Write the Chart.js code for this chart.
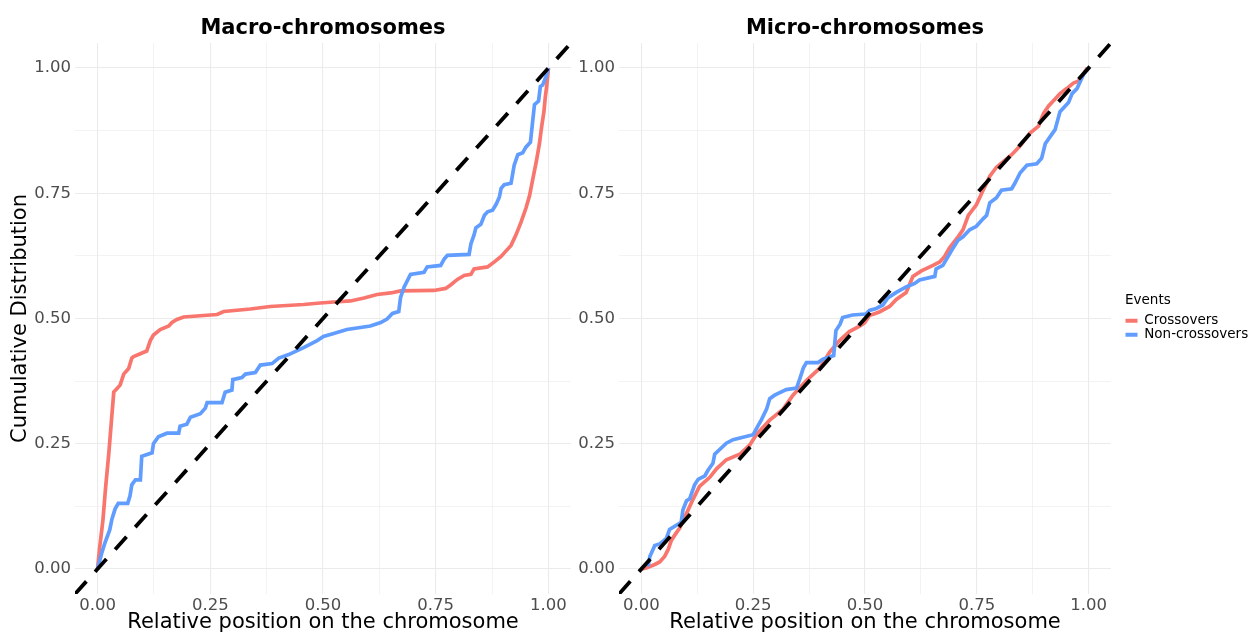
<!DOCTYPE html>
<html>
<head>
<meta charset="utf-8">
<script src="https://cdn.jsdelivr.net/npm/chart.js@4.4.1/dist/chart.umd.min.js"></script>
<style>
  html, body { margin: 0; padding: 0; background: #fff; overflow: hidden; width: 1255px; height: 637px; }
  canvas { position: absolute; top: 0; }
  #macro { left: 0; }
  #micro { left: 571px; }
</style>
</head>
<body>
<canvas id="macro" width="571" height="637"></canvas>
<canvas id="micro" width="690" height="637"></canvas>
<script>
// ticks shared by both axes of both panels (minor ones have no label)
const tickValues = [0, 0.125, 0.25, 0.375, 0.5, 0.625, 0.75, 0.875, 1]
const tickLabels = ['0.00', '', '0.25', '', '0.50', '', '0.75', '', '1.00']

const seriesNames = ['Crossovers', 'Non-crossovers']
const seriesColors = ['#F8766D', '#619CFF']

// Macro-chromosomes
const macroCrossX = [0, 0.005, 0.012, 0.018, 0.025, 0.031, 0.036, 0.050, 0.058, 0.069, 0.076, 0.080, 0.109, 0.117, 0.124, 0.139, 0.158, 0.165, 0.176, 0.191, 0.265, 0.280, 0.339, 0.383, 0.457, 0.494, 0.524, 0.561, 0.591, 0.620, 0.650, 0.672, 0.746, 0.772, 0.783, 0.798, 0.813, 0.828, 0.835, 0.865, 0.880, 0.895, 0.902, 0.917, 0.928, 0.939, 0.950, 0.958, 0.965, 0.973, 0.980, 0.985, 0.990, 0.993, 0.996, 1.0]
const macroCrossY = [0, 0.045, 0.098, 0.164, 0.231, 0.298, 0.353, 0.367, 0.389, 0.400, 0.421, 0.424, 0.435, 0.456, 0.467, 0.478, 0.485, 0.492, 0.498, 0.503, 0.508, 0.514, 0.519, 0.524, 0.528, 0.531, 0.533, 0.535, 0.541, 0.548, 0.551, 0.555, 0.556, 0.560, 0.567, 0.578, 0.586, 0.588, 0.599, 0.603, 0.613, 0.624, 0.631, 0.646, 0.667, 0.692, 0.720, 0.745, 0.777, 0.813, 0.849, 0.884, 0.913, 0.942, 0.963, 1.0]

const macroNonX = [0, 0.009, 0.016, 0.027, 0.032, 0.039, 0.046, 0.067, 0.072, 0.076, 0.084, 0.095, 0.098, 0.121, 0.124, 0.135, 0.154, 0.180, 0.183, 0.198, 0.206, 0.228, 0.239, 0.243, 0.276, 0.283, 0.298, 0.300, 0.320, 0.328, 0.350, 0.361, 0.387, 0.402, 0.424, 0.457, 0.487, 0.501, 0.520, 0.553, 0.605, 0.628, 0.642, 0.654, 0.668, 0.672, 0.680, 0.694, 0.724, 0.731, 0.761, 0.769, 0.776, 0.824, 0.828, 0.835, 0.839, 0.850, 0.858, 0.865, 0.876, 0.884, 0.891, 0.895, 0.902, 0.917, 0.924, 0.932, 0.943, 0.950, 0.960, 0.963, 0.969, 0.978, 0.982, 0.987, 0.995, 1.0]
const macroNonY = [0, 0.031, 0.051, 0.078, 0.100, 0.120, 0.131, 0.131, 0.146, 0.168, 0.178, 0.178, 0.225, 0.232, 0.250, 0.264, 0.271, 0.271, 0.285, 0.289, 0.303, 0.310, 0.321, 0.332, 0.332, 0.353, 0.357, 0.378, 0.382, 0.389, 0.392, 0.407, 0.410, 0.421, 0.428, 0.442, 0.456, 0.464, 0.469, 0.478, 0.485, 0.492, 0.499, 0.510, 0.514, 0.542, 0.563, 0.588, 0.592, 0.603, 0.606, 0.619, 0.626, 0.628, 0.649, 0.667, 0.681, 0.688, 0.706, 0.713, 0.716, 0.728, 0.742, 0.760, 0.767, 0.770, 0.806, 0.827, 0.831, 0.842, 0.852, 0.877, 0.927, 0.934, 0.963, 0.966, 0.984, 1.0]

// Micro-chromosomes
const microCrossX = [0, 0.011, 0.030, 0.041, 0.052, 0.060, 0.067, 0.075, 0.086, 0.101, 0.116, 0.130, 0.153, 0.168, 0.190, 0.220, 0.242, 0.257, 0.287, 0.317, 0.339, 0.369, 0.399, 0.421, 0.442, 0.465, 0.487, 0.499, 0.510, 0.532, 0.555, 0.570, 0.592, 0.607, 0.626, 0.652, 0.667, 0.678, 0.689, 0.708, 0.719, 0.731, 0.749, 0.764, 0.779, 0.794, 0.809, 0.828, 0.847, 0.869, 0.888, 0.899, 0.910, 0.925, 0.936, 0.951, 0.966, 0.978, 0.985, 0.997]
const microCrossY = [0, 0.002, 0.009, 0.014, 0.025, 0.039, 0.057, 0.068, 0.082, 0.111, 0.140, 0.165, 0.183, 0.200, 0.218, 0.229, 0.247, 0.268, 0.297, 0.319, 0.347, 0.376, 0.401, 0.433, 0.455, 0.474, 0.484, 0.491, 0.506, 0.513, 0.524, 0.538, 0.552, 0.584, 0.595, 0.606, 0.613, 0.624, 0.641, 0.663, 0.677, 0.706, 0.727, 0.756, 0.784, 0.802, 0.813, 0.827, 0.845, 0.870, 0.884, 0.909, 0.924, 0.938, 0.949, 0.959, 0.970, 0.974, 0.984, 1.0]

const microNonX = [0.015, 0.019, 0.030, 0.041, 0.056, 0.063, 0.089, 0.093, 0.101, 0.108, 0.119, 0.127, 0.142, 0.149, 0.160, 0.164, 0.190, 0.205, 0.250, 0.261, 0.268, 0.280, 0.287, 0.298, 0.324, 0.347, 0.354, 0.362, 0.369, 0.395, 0.406, 0.430, 0.435, 0.444, 0.450, 0.472, 0.502, 0.510, 0.525, 0.540, 0.551, 0.570, 0.592, 0.611, 0.622, 0.656, 0.659, 0.674, 0.686, 0.697, 0.708, 0.719, 0.734, 0.749, 0.764, 0.772, 0.779, 0.794, 0.805, 0.828, 0.835, 0.847, 0.862, 0.884, 0.895, 0.903, 0.914, 0.925, 0.936, 0.955, 0.963, 0.974, 0.989, 1.0]
const microNonY = [0.005, 0.025, 0.047, 0.050, 0.061, 0.079, 0.093, 0.118, 0.136, 0.140, 0.168, 0.179, 0.186, 0.197, 0.211, 0.229, 0.251, 0.258, 0.268, 0.286, 0.297, 0.319, 0.340, 0.347, 0.358, 0.361, 0.379, 0.401, 0.412, 0.412, 0.419, 0.426, 0.476, 0.488, 0.502, 0.507, 0.509, 0.516, 0.520, 0.527, 0.541, 0.552, 0.563, 0.570, 0.577, 0.584, 0.599, 0.606, 0.624, 0.641, 0.656, 0.663, 0.677, 0.684, 0.699, 0.706, 0.731, 0.741, 0.756, 0.759, 0.770, 0.791, 0.806, 0.809, 0.820, 0.849, 0.863, 0.877, 0.913, 0.931, 0.949, 0.959, 0.988, 1.0]

// y = x reference line, drawn across the whole panel
const diagX = [-0.05, 1.05]
const diagY = [-0.05, 1.05]

Chart.defaults.font.family = 'DejaVu Sans'
Chart.defaults.color = '#4D4D4D'

const pts = (xs, ys) => xs.map((x, i) => ({x, y: ys[i]}))

const makeDatasets = (crossX, crossY, nonX, nonY) => [
  { label: seriesNames[0], data: pts(crossX, crossY), borderColor: seriesColors[0], backgroundColor: seriesColors[0],
    borderWidth: 3.7, showLine: true, pointRadius: 0, order: 2 },
  { label: seriesNames[1], data: pts(nonX, nonY), borderColor: seriesColors[1], backgroundColor: seriesColors[1],
    borderWidth: 3.7, showLine: true, pointRadius: 0, order: 1 },
  { label: 'diag', data: pts(diagX, diagY), borderColor: '#000', backgroundColor: '#000',
    borderWidth: 3.8, borderDash: [17, 13], borderCapStyle: 'butt', showLine: true, pointRadius: 0, clip: 0, order: 0 }
]

const grid = { color: '#EBEBEB', lineWidth: c => (c.index % 2 ? 0.6 : 1.1), drawTicks: false }
const setTicks = s => { s.ticks = tickValues.map(v => ({value: v})) }

const xAxis = () => ({
  type: 'linear', position: 'bottom', min: -0.05, max: 1.05,
  afterBuildTicks: setTicks,
  afterFit: s => { s.height = 43 },
  grid, border: { display: false },
  ticks: { autoSkip: false, maxRotation: 0, padding: 2, font: { size: 16.5 }, callback: (v, i) => tickLabels[i] },
  title: { display: true, text: 'Relative position on the chromosome', color: '#000', font: { size: 21 }, padding: { top: 0, bottom: 1.5 } }
})

const yAxis = (width, withTitle) => ({
  type: 'linear', position: 'left', min: -0.05, max: 1.05,
  afterBuildTicks: setTicks,
  afterFit: s => { s.width = width },
  grid, border: { display: false },
  ticks: { autoSkip: false, padding: 4, font: { size: 16.5 }, callback: (v, i) => tickLabels[i] },
  title: { display: withTitle, text: 'Cumulative Distribution', color: '#000', font: { size: 21 }, padding: { top: 7.5, bottom: 0 } }
})

const panelTitle = text => ({
  display: true, text, fullSize: false, color: '#000',
  font: { size: 21, weight: 'bold' }, padding: { top: 16.4, bottom: 1.4 }
})

new Chart(document.getElementById('macro'), {
  type: 'scatter',
  data: { datasets: makeDatasets(macroCrossX, macroCrossY, macroNonX, macroNonY) },
  options: {
    responsive: false, animation: false, events: [],
    layout: { padding: 0 },
    scales: { x: xAxis(), y: yAxis(75, true) },
    plugins: { legend: { display: false }, tooltip: { enabled: false }, title: panelTitle('Macro-chromosomes') }
  }
})

const micro = new Chart(document.getElementById('micro'), {
  type: 'scatter',
  data: { datasets: makeDatasets(microCrossX, microCrossY, microNonX, microNonY) },
  options: {
    responsive: false, animation: false, events: [],
    layout: { padding: { left: 0, right: 0, top: 0, bottom: 0 } },
    scales: {
      x: xAxis(),
      y: yAxis(48, false),
      // empty space between the panel and the legend
      gap: { type: 'linear', position: 'right', grid: { display: false }, border: { display: false },
             ticks: { display: false }, afterFit: s => { s.width = 14 } }
    },
    plugins: {
      tooltip: { enabled: false },
      title: panelTitle('Micro-chromosomes'),
      legend: {
        display: true, position: 'right', align: 'center', maxWidth: 300,
        title: { display: true, text: 'Events', position: 'start', color: '#000', font: { size: 13.5 }, padding: { top: -1.8, bottom: 4 } },
        labels: {
          boxWidth: 12, boxHeight: 4, padding: 0.5, color: '#000', font: { size: 13.5 },
          filter: item => item.datasetIndex < 2,
          sort: (a, b) => a.datasetIndex - b.datasetIndex,
          generateLabels: chart => Chart.defaults.plugins.legend.labels.generateLabels(chart).map(l => Object.assign(l, { lineWidth: 0 }))
        }
      }
    }
  }
})

// put the legend's left edge where the reference has it (x = 1125 on the page)
micro.options.layout.padding.right = 690 - 554 - micro.legend.width
micro.update()
</script>
</body>
</html>
